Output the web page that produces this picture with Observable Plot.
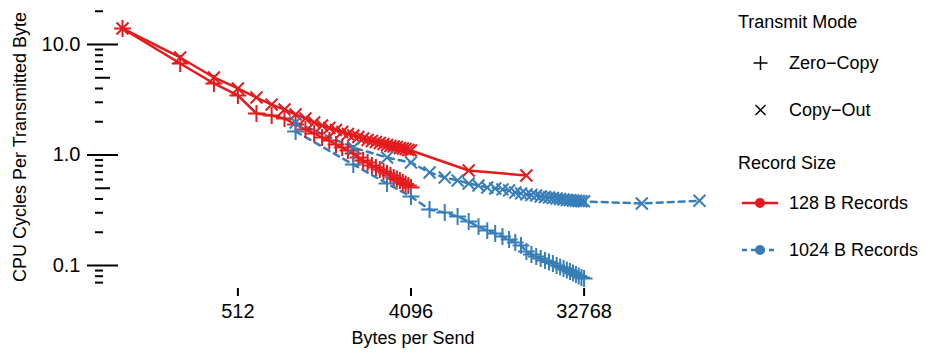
<!DOCTYPE html>
<html>
<head>
<meta charset="utf-8">
<script src="https://cdn.jsdelivr.net/npm/d3@7"></script>
<script src="https://cdn.jsdelivr.net/npm/@observablehq/plot@0.6"></script>
<style>
  body { margin: 0; background: #fff; font-family: "Liberation Sans", Arial, Helvetica, sans-serif; }
  #wrap { position: relative; width: 927px; height: 352px; overflow: hidden; background: #fff; }
  #chart { position: absolute; left: 0; top: 0; }
  #legend { position: absolute; left: 720px; top: 0; }
</style>
</head>
<body>
<div id="wrap"><div id="chart"></div><svg id="legend" width="207" height="352"></svg></div>
<script>
// ---------- data ----------
const modes = ["Zero\u2212Copy", "Copy\u2212Out"];
const records = ["128 B Records", "1024 B Records"];
const colors = ["#E41A1C", "#377EB8"];
const xTitle = "Bytes per Send";
const yTitle = "CPU Cycles Per Transmitted Byte";
const legendTitles = ["Transmit Mode", "Record Size"];

const xTickValues = [512, 4096, 32768];
const xTickLabels = ["512", "4096", "32768"];
const yMajorTicks = [0.1, 1, 10];
const yMajorLabels = ["0.1", "1.0", "10.0"];
const yMidTicks = [0.5, 5];
const yMinorTicks = [0.07, 0.08, 0.09, 0.2, 0.3, 0.4, 0.6, 0.7, 0.8, 0.9, 2, 3, 4, 6, 7, 8, 9, 20];

const bytes128 = [128, 256, 384, 512, 640, 768, 896, 1024, 1152, 1280, 1408, 1536, 1664, 1792, 1920, 2048,
  2176, 2304, 2432, 2560, 2688, 2816, 2944, 3072, 3200, 3328, 3456, 3584, 3712, 3840, 3968, 4096];
const bytes128CopyOut = [128, 256, 384, 512, 640, 768, 896, 1024, 1152, 1280, 1408, 1536, 1664, 1792, 1920, 2048,
  2176, 2304, 2432, 2560, 2688, 2816, 2944, 3072, 3200, 3328, 3456, 3584, 3712, 3840, 3968, 4096, 8192, 16384];
const bytes1024 = [1024, 2048, 3072, 4096, 5120, 6144, 7168, 8192, 9216, 10240, 11264, 12288, 13312, 14336, 15360, 16384,
  17408, 18432, 19456, 20480, 21504, 22528, 23552, 24576, 25600, 26624, 27648, 28672, 29696, 30720, 31744, 32768];
const bytes1024CopyOut = [1024, 2048, 3072, 4096, 5120, 6144, 7168, 8192, 9216, 10240, 11264, 12288, 13312, 14336, 15360, 16384,
  17408, 18432, 19456, 20480, 21504, 22528, 23552, 24576, 25600, 26624, 27648, 28672, 29696, 30720, 31744, 32768, 65536, 131072];

const cyclesZeroCopy128 = [13.96, 6.73, 4.44, 3.46, 2.375, 2.278, 2.14, 1.888, 1.701, 1.565, 1.44, 1.353, 1.245, 1.169, 1.098, 1.032,
  0.949, 0.892, 0.855, 0.803, 0.771, 0.739, 0.709, 0.68, 0.652, 0.626, 0.606, 0.588, 0.564, 0.546, 0.53, 0.508];
const cyclesCopyOut128 = [13.96, 7.63, 5.03, 4.0, 3.31, 2.86, 2.58, 2.33, 2.14, 1.97, 1.85, 1.755, 1.684, 1.615, 1.549, 1.501,
  1.455, 1.41, 1.367, 1.339, 1.311, 1.284, 1.257, 1.232, 1.206, 1.194, 1.181, 1.157, 1.145, 1.133, 1.11, 1.098, 0.724, 0.652];
const cyclesZeroCopy1024 = [1.632, 0.82, 0.552, 0.421, 0.321, 0.302, 0.278, 0.25, 0.225, 0.207, 0.195, 0.183, 0.172, 0.1615, 0.152, 0.134,
  0.1258, 0.1206, 0.1157, 0.111, 0.1076, 0.1042, 0.1, 0.0969, 0.0939, 0.0911, 0.0882, 0.0856, 0.0829, 0.0804, 0.0779, 0.0763];
const cyclesCopyOut1024 = [1.97, 1.169, 0.949, 0.855, 0.694, 0.626, 0.588, 0.552, 0.53, 0.508, 0.498, 0.488, 0.478, 0.458, 0.449, 0.44,
  0.435, 0.43, 0.421, 0.417, 0.413, 0.408, 0.404, 0.4, 0.396, 0.392, 0.39, 0.387, 0.385, 0.383, 0.381, 0.38, 0.364, 0.385];

// ---------- build tables ----------
function series(xs, ys, mode, record) {
  return xs.map((x, i) => ({bytes: x, cycles: ys[i], mode, record, key: mode + "|" + record}));
}
const red = [
  ...series(bytes128, cyclesZeroCopy128, modes[0], records[0]),
  ...series(bytes128CopyOut, cyclesCopyOut128, modes[1], records[0])
];
const blue = [
  ...series(bytes1024, cyclesZeroCopy1024, modes[0], records[1]),
  ...series(bytes1024CopyOut, cyclesCopyOut1024, modes[1], records[1])
];

const font = "'Liberation Sans', Arial, Helvetica, sans-serif";

const chart = Plot.plot({
  width: 727,
  height: 352,
  marginTop: 5,
  marginBottom: 64,
  marginLeft: 118,
  marginRight: 20,
  style: {fontFamily: font, color: "#000", background: "transparent", overflow: "visible"},
  x: {type: "log", base: 2, domain: [128, 131072], range: [122, 699]},
  y: {type: "log", domain: [0.1, 10], range: [265, 44]},
  color: {domain: records, range: colors},
  symbol: {domain: modes, range: ["plus", "times"]},
  marks: [
    Plot.axisY(yMinorTicks, {tickSize: 8, dx: -15, strokeWidth: 2, tickFormat: () => "", label: null}),
    Plot.axisY(yMidTicks, {tickSize: 15, dx: -8, strokeWidth: 2, tickFormat: () => "", label: null}),
    Plot.axisY(yMajorTicks, {tickSize: 31, tickPadding: 7, fontSize: 20, strokeWidth: 2,
      tickFormat: d => yMajorLabels[yMajorTicks.indexOf(d)], label: null}),
    Plot.axisX(xTickValues, {tickSize: 8, tickPadding: 7, fontSize: 20, strokeWidth: 2,
      tickFormat: d => xTickLabels[xTickValues.indexOf(d)], label: null}),
    Plot.text([xTitle], {frameAnchor: "bottom", dy: 50, lineAnchor: "middle", textAnchor: "middle", fontSize: 18, text: d => d, fill: "#000"}),
    Plot.text([yTitle], {frameAnchor: "left", dx: -98, rotate: -90, textAnchor: "middle", lineAnchor: "middle", fontSize: 18, text: d => d, fill: "#000"}),
    Plot.line(red, {x: "bytes", y: "cycles", z: "key", stroke: "record", strokeWidth: 2.5}),
    Plot.line(blue, {x: "bytes", y: "cycles", z: "key", stroke: "record", strokeWidth: 2.5, strokeDasharray: "6,5"}),
    Plot.dot(red, {x: "bytes", y: "cycles", symbol: "mode", stroke: "record", fill: "none", r: 5.5, strokeWidth: 2}),
    Plot.dot(blue, {x: "bytes", y: "cycles", symbol: "mode", stroke: "record", fill: "none", r: 5.5, strokeWidth: 2})
  ]
});
document.getElementById("chart").appendChild(chart);

// ---------- legend ----------
const ns = "http://www.w3.org/2000/svg";
const lg = document.getElementById("legend");
function el(tag, attrs, text) {
  const e = document.createElementNS(ns, tag);
  for (const k in attrs) e.setAttribute(k, attrs[k]);
  if (text != null) e.textContent = text;
  lg.appendChild(e);
  return e;
}
const tAttrs = {"font-size": 18, "font-family": font, fill: "#000", "dominant-baseline": "central"};
el("text", {x: 18, y: 22, ...tAttrs}, legendTitles[0]);
el("path", {d: "M33.5,63H47.5M40.5,56V70", stroke: "#000", "stroke-width": 1.5, fill: "none"});
el("text", {x: 69, y: 63, ...tAttrs}, modes[0]);
el("path", {d: "M35.5,105L45.5,115M35.5,115L45.5,105", stroke: "#000", "stroke-width": 1.5, fill: "none"});
el("text", {x: 69, y: 110, ...tAttrs}, modes[1]);
el("text", {x: 18, y: 163, ...tAttrs}, legendTitles[1]);
el("line", {x1: 22, x2: 58, y1: 203, y2: 203, stroke: colors[0], "stroke-width": 2.5});
el("circle", {cx: 40, cy: 203, r: 5, fill: colors[0]});
el("text", {x: 69, y: 203, ...tAttrs}, records[0]);
el("line", {x1: 22, x2: 58, y1: 250, y2: 250, stroke: colors[1], "stroke-width": 2.5, "stroke-dasharray": "5,4"});
el("circle", {cx: 40, cy: 250, r: 5, fill: colors[1]});
el("text", {x: 69, y: 250, ...tAttrs}, records[1]);
</script>
</body>
</html>
